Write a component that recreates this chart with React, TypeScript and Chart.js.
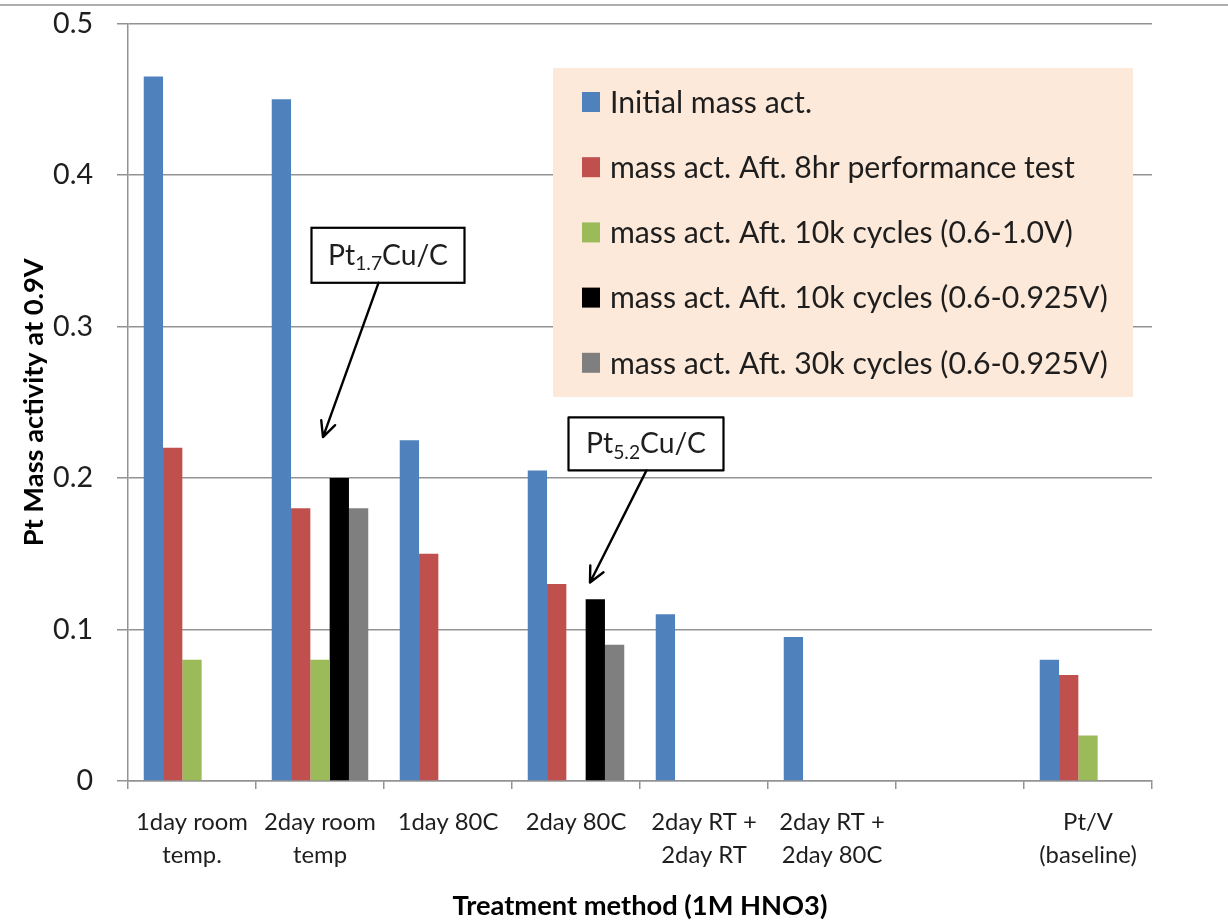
import React, { useEffect, useRef } from "react";
import { Chart, registerables } from "chart.js";

Chart.register(...registerables);

const FONT = "Lato, 'Liberation Sans', sans-serif";

// ---------- data ----------
const categories: (string | string[])[] = [
  ["1day room", "temp."],
  ["2day room", "temp"],
  "1day 80C",
  "2day 80C",
  ["2day RT +", "2day RT"],
  ["2day RT +", "2day 80C"],
  "",
  ["Pt/V", "(baseline)"],
];

const seriesLabels = [
  "Initial mass act.",
  "mass act. Aft. 8hr performance test",
  "mass act. Aft. 10k cycles (0.6-1.0V)",
  "mass act. Aft. 10k cycles (0.6-0.925V)",
  "mass act. Aft. 30k cycles (0.6-0.925V)",
];
const seriesColors = ["#4F81BD", "#C0504D", "#9BBB59", "#000000", "#7F7F7F"];

const initialMassAct = [0.465, 0.45, 0.225, 0.205, 0.11, 0.095, null, 0.08];
const after8hrTest = [0.22, 0.18, 0.15, 0.13, null, null, null, 0.07];
const after10kCycles10V = [0.08, 0.08, null, null, null, null, null, 0.03];
const after10kCycles0925V = [null, 0.2, null, 0.12, null, null, null, null];
const after30kCycles0925V = [null, 0.18, null, 0.09, null, null, null, null];

const yTickValues = [0, 0.1, 0.2, 0.3, 0.4, 0.5];
const yTickLabels = ["0", "0.1", "0.2", "0.3", "0.4", "0.5"];

const xAxisTitle = "Treatment method (1M HNO3)";
const yAxisTitle = "Pt Mass activity at 0.9V";

const calloutTexts = [
  { base: "Pt", sub: "1.7", tail: "Cu/C" },
  { base: "Pt", sub: "5.2", tail: "Cu/C" },
];

// ---------- layout (not data) ----------
const W = 1228;
const H = 923;
const PLOT = { left: 128, right: 1152, top: 23.5, bottom: 781 };
const LEGEND_BOX = { x: 553, y: 68, w: 580, h: 329, rowY0: 102, rowStep: 65.2, swatchX: 582, textX: 610 };
const calloutLayout = [
  { cat: 1, boxDx: 68, boxValue: 0.347, boxW: 153, boxH: 55, tailDx: -9.5, tipDx: 3, tipValue: 0.227 },
  { cat: 3, boxDx: 70, boxValue: 0.2225, boxW: 155, boxH: 53, tailDx: 0.5, tipDx: 14, tipValue: 0.131 },
];

let measureCtx: CanvasRenderingContext2D | null = null;
function measure(text: string, font: string): number {
  if (!measureCtx) measureCtx = document.createElement("canvas").getContext("2d");
  measureCtx!.font = font;
  return measureCtx!.measureText(text).width;
}
function fit(text: string, target: number, weight = "normal"): number {
  return (100 * target) / measure(text, `${weight} 100px ${FONT}`);
}

export default function App() {
  const ref = useRef<HTMLCanvasElement | null>(null);

  useEffect(() => {
    document.body.style.margin = "0";
    const canvas = ref.current;
    if (!canvas) return;

    const legendSize = fit(seriesLabels[3], 498);
    const yTickSize = fit("0.5", 40);
    const xTickSize = fit("1day room", 112);
    const titleSize = fit(xAxisTitle, 375, "bold");
    const cMain100 = measure("Pt", `100px ${FONT}`) + measure("Cu/C", `100px ${FONT}`);
    const cSub100 = measure("5.2", `100px ${FONT}`) * 0.68;
    const calloutSize = (100 * 120) / (cMain100 + cSub100);

    const textColor = "#1e1e1e";
    const gridColor = "#939393";

    const overlay = {
      id: "overlay",
      afterDraw(chart: any) {
        const ctx = chart.ctx as CanvasRenderingContext2D;
        const xs = chart.scales.x;
        const ys = chart.scales.y;
        ctx.save();
        // legend
        ctx.fillStyle = "#FDE9D9";
        ctx.fillRect(LEGEND_BOX.x, LEGEND_BOX.y, LEGEND_BOX.w, LEGEND_BOX.h);
        ctx.font = `${legendSize}px ${FONT}`;
        ctx.textBaseline = "middle";
        ctx.textAlign = "left";
        chart.data.datasets.forEach((ds: any, i: number) => {
          const cy = LEGEND_BOX.rowY0 + i * LEGEND_BOX.rowStep;
          ctx.fillStyle = ds.backgroundColor;
          ctx.fillRect(LEGEND_BOX.swatchX, cy - 10, 18, 20);
          ctx.fillStyle = textColor;
          ctx.fillText(ds.label, LEGEND_BOX.textX, cy + 1);
        });
        // callouts
        calloutLayout.forEach((c, i) => {
          const t = calloutTexts[i];
          const cx = xs.getPixelForValue(c.cat) + c.boxDx;
          const cyv = ys.getPixelForValue(c.boxValue);
          const bx = cx - c.boxW / 2;
          const by = cyv - c.boxH / 2;
          ctx.fillStyle = "#ffffff";
          ctx.fillRect(bx, by, c.boxW, c.boxH);
          ctx.strokeStyle = "#000";
          ctx.lineWidth = 2.2;
          ctx.strokeRect(bx, by, c.boxW, c.boxH);
          // text
          const mainFont = `${calloutSize}px ${FONT}`;
          const subFont = `${calloutSize * 0.68}px ${FONT}`;
          const wBase = measure(t.base, mainFont);
          const wSub = measure(t.sub, subFont);
          const wTail = measure(t.tail, mainFont);
          let x = cx - (wBase + wSub + wTail) / 2;
          const baseY = cyv + calloutSize * 0.33;
          ctx.fillStyle = textColor;
          ctx.textBaseline = "alphabetic";
          ctx.font = mainFont;
          ctx.fillText(t.base, x, baseY);
          x += wBase;
          ctx.font = subFont;
          ctx.fillText(t.sub, x, baseY + calloutSize * 0.2);
          x += wSub;
          ctx.font = mainFont;
          ctx.fillText(t.tail, x, baseY);
          // arrow
          const sx = cx + c.tailDx;
          const sy = by + c.boxH;
          const tx = xs.getPixelForValue(c.cat) + c.tipDx;
          const ty = ys.getPixelForValue(c.tipValue);
          ctx.beginPath();
          ctx.moveTo(sx, sy);
          ctx.lineTo(tx, ty);
          const ang = Math.atan2(ty - sy, tx - sx);
          const L = 17;
          const spread = 0.45;
          ctx.moveTo(tx - L * Math.cos(ang - spread), ty - L * Math.sin(ang - spread));
          ctx.lineTo(tx, ty);
          ctx.lineTo(tx - L * Math.cos(ang + spread), ty - L * Math.sin(ang + spread));
          ctx.lineWidth = 2.4;
          ctx.lineCap = "round";
          ctx.lineJoin = "round";
          ctx.stroke();
        });
        ctx.restore();
      },
    };

    const series = [initialMassAct, after8hrTest, after10kCycles10V, after10kCycles0925V, after30kCycles0925V];

    const chart = new Chart(canvas, {
      type: "bar",
      data: {
        labels: categories as any,
        datasets: series.map((d, i) => ({
          label: seriesLabels[i],
          data: d as any,
          backgroundColor: seriesColors[i],
          borderWidth: 0,
          categoryPercentage: 0.754,
          barPercentage: 1.0,
        })),
      },
      options: {
        animation: false,
        responsive: false,
        devicePixelRatio: 1,
        layout: { padding: { top: PLOT.top, right: W - PLOT.right, left: 0, bottom: 0 } },
        plugins: {
          legend: { display: false },
          tooltip: { enabled: false },
        },
        scales: {
          x: {
            offset: true,
            grid: {
              offset: true,
              drawOnChartArea: false,
              drawTicks: true,
              tickLength: 8,
              color: gridColor,
              lineWidth: 1.5,
            },
            border: { color: gridColor, width: 1.5 },
            ticks: {
              color: textColor,
              font: { family: FONT, size: xTickSize, lineHeight: 33 / xTickSize },
              padding: 17,
              maxRotation: 0,
              autoSkip: false,
            },
            title: {
              display: true,
              text: xAxisTitle,
              color: "#000",
              font: { family: FONT, size: titleSize, weight: "bold", lineHeight: 1.2 },
              padding: { top: 9, bottom: 0 },
            },
            afterFit(scale: any) {
              scale.height = H - PLOT.bottom;
              scale.paddingLeft = 0;
              scale.paddingRight = 0;
            },
          },
          y: {
            min: yTickValues[0],
            max: yTickValues[yTickValues.length - 1],
            ticks: {
              stepSize: yTickValues[1] - yTickValues[0],
              color: textColor,
              font: { family: FONT, size: yTickSize },
              padding: 24,
              callback: (v: any) => yTickLabels[Math.round(Number(v) * 10)] ?? String(v),
            },
            grid: { color: gridColor, lineWidth: 1.5, tickLength: 11 },
            border: { color: gridColor, width: 1.5 },
            title: {
              display: true,
              text: yAxisTitle,
              color: "#000",
              font: { family: FONT, size: titleSize, weight: "bold", lineHeight: 1.2 },
              padding: { top: 18, bottom: 0 },
            },
            afterFit(scale: any) {
              scale.width = PLOT.left;
              scale.paddingTop = 0;
              scale.paddingBottom = 0;
            },
          },
        },
      },
      plugins: [overlay],
    });

    return () => chart.destroy();
  }, []);

  return (
    <div style={{ position: "relative", width: W, height: H, background: "#fff", overflow: "hidden" }}>
      <div style={{ position: "absolute", left: 0, top: 4, width: W, height: 2, background: "#aeaeae" }} />
      <canvas ref={ref} width={W} height={H} style={{ display: "block", width: W, height: H }} />
    </div>
  );
}
